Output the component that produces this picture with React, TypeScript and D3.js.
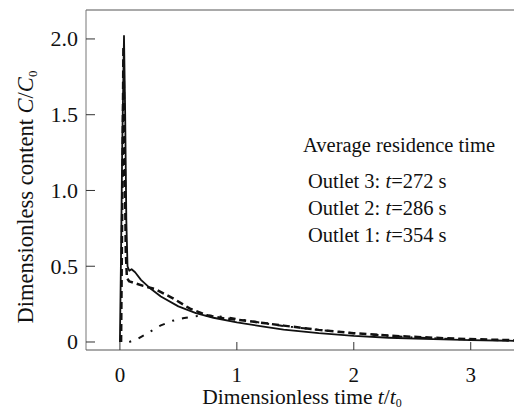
import React from "react";
import * as d3 from "d3";

const xTicks = [0, 1, 2, 3];
const yTicks = [0, 0.5, 1.0, 1.5, 2.0];
const yTickLabels = ["0", "0.5", "1.0", "1.5", "2.0"];

// Solid curve
const solidT = [0, 0.01, 0.02, 0.035, 0.045, 0.055, 0.065, 0.08, 0.1, 0.13, 0.18, 0.25, 0.35, 0.5, 0.65, 0.8, 1.0, 1.2, 1.4, 1.7, 2.0, 2.3, 2.6, 3.0, 3.37];
const solidV = [0, 0.6, 1.3, 2.02, 1.5, 0.8, 0.5, 0.47, 0.48, 0.46, 0.41, 0.36, 0.3, 0.235, 0.19, 0.16, 0.13, 0.105, 0.082, 0.058, 0.04, 0.028, 0.02, 0.012, 0.008];

// Dashed curve
const dashedT = [0.01, 0.02, 0.03, 0.04, 0.05, 0.06, 0.08, 0.12, 0.2, 0.3, 0.45, 0.6, 0.75, 0.9, 1.1, 1.4, 1.7, 2.0, 2.4, 2.8, 3.2, 3.37];
const dashedV = [0, 0.9, 1.95, 1.3, 0.6, 0.42, 0.4, 0.39, 0.37, 0.35, 0.29, 0.22, 0.175, 0.155, 0.138, 0.108, 0.08, 0.058, 0.038, 0.024, 0.015, 0.012];

// Dash-dot curve
const dotT = [0.08, 0.15, 0.25, 0.35, 0.45, 0.55, 0.65, 0.75, 0.9, 1.1, 1.4, 1.7, 2.0, 2.5, 3.0, 3.37];
const dotV = [0, 0.02, 0.065, 0.11, 0.14, 0.158, 0.17, 0.175, 0.165, 0.14, 0.105, 0.08, 0.057, 0.03, 0.015, 0.01];

const legendTitle = "Average residence time";
const legendLines = [
  { name: "Outlet 3: ", val: "=272 s" },
  { name: "Outlet 2: ", val: "=286 s" },
  { name: "Outlet 1: ", val: "=354 s" },
];

export default function App() {
  const W = 514, H = 413;
  const L = 86, R = 514, T = 10, B = 350;
  const x = d3.scaleLinear().domain([-0.29, 3.37]).range([L, R]);
  const y = d3.scaleLinear().domain([-0.0528, 2.191]).range([B, T]);
  const line = d3.line<[number, number]>().x(d => x(d[0])).y(d => y(d[1]));
  const mk = (ts: number[], vs: number[]) => line(ts.map((t, i) => [t, vs[i]] as [number, number])) || "";
  const font = "'Liberation Serif', 'Times New Roman', 'DejaVu Serif', serif";
  const ts = { fontFamily: font };

  return (
    <svg width={W} height={H} style={{ position: "absolute", left: 0, top: 0, background: "#fff", fontFamily: font }}>
      <defs>
        <clipPath id="plot">
          <rect x={L} y={T} width={R - L} height={B - T} />
        </clipPath>
      </defs>
      {/* frame */}
      <line x1={L} y1={T} x2={R} y2={T} stroke="#555" strokeWidth={1} />
      <line x1={L} y1={T} x2={L} y2={B} stroke="#777" strokeWidth={1} />
      <line x1={L} y1={B} x2={R} y2={B} stroke="#555" strokeWidth={1} />
      {/* y ticks */}
      {yTicks.map((v, i) => (
        <g key={"y" + i}>
          <line x1={L} x2={L + 9} y1={y(v)} y2={y(v)} stroke="#333" strokeWidth={1} />
          <text x={78} y={y(v) + 7.5} textAnchor="end" fontSize={22} fill="#111" style={ts}>{yTickLabels[i]}</text>
        </g>
      ))}
      {/* x ticks */}
      {xTicks.map((v, i) => (
        <g key={"x" + i}>
          <line x1={x(v)} x2={x(v)} y1={B} y2={B - 8} stroke="#333" strokeWidth={1} />
          <text x={x(v)} y={382} textAnchor="middle" fontSize={21} fill="#111" style={ts}>{String(v)}</text>
        </g>
      ))}
      {/* curves */}
      <g clipPath="url(#plot)" fill="none" stroke="#111" strokeLinejoin="round">
        <path d={mk(dotT, dotV)} strokeWidth={2} strokeDasharray="2,8,6,8" />
        <path d={mk(dashedT, dashedV)} strokeWidth={2.5} strokeDasharray="7,4" />
        <path d={mk(solidT, solidV)} strokeWidth={1.8} />
      </g>
      {/* legend text */}
      <text x={303} y={152} fontSize={20.5} fill="#111" style={ts}>{legendTitle}</text>
      {legendLines.map((d, i) => (
        <text key={"l" + i} x={308} y={188 + i * 27} fontSize={20.5} fill="#111" style={ts}>
          {d.name}<tspan fontStyle="italic">t</tspan>{d.val}
        </text>
      ))}
      {/* axis titles */}
      <text x={302} y={404} textAnchor="middle" fontSize={21.5} fill="#111" style={ts}>
        Dimensionless time <tspan fontStyle="italic">t</tspan>/<tspan fontStyle="italic">t</tspan><tspan fontSize={12} dy={3}>0</tspan>
      </text>
      <text transform="translate(33,197) rotate(-90)" textAnchor="middle" fontSize={22.5} fill="#111" style={ts}>
        Dimensionless content <tspan fontStyle="italic">C</tspan>/<tspan fontStyle="italic">C</tspan><tspan fontSize={13} dy={4}>0</tspan>
      </text>
    </svg>
  );
}
